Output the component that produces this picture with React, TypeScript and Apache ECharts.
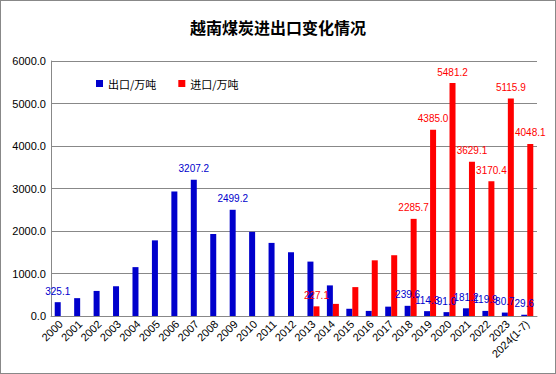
import React, { useEffect, useRef } from "react";
import * as echarts from "echarts";

const years = [
  "2000", "2001", "2002", "2003", "2004", "2005", "2006", "2007", "2008", "2009",
  "2010", "2011", "2012", "2013", "2014", "2015", "2016", "2017", "2018", "2019",
  "2020", "2021", "2022", "2023", "2024(1-7)",
];
const exportVals = [
  325.1, 420, 590, 700, 1150, 1780, 2930, 3207.2, 1930, 2499.2,
  1980, 1720, 1500, 1280, 720, 170, 120, 220, 239.6, 114.3,
  91.0, 181.2, 119.9, 80.7, 29.6,
];
const importVals: (number | null)[] = [
  null, null, null, null, null, null, null, null, null, null,
  null, null, null, 227.1, 285, 680, 1310, 1430, 2285.7, 4385.0,
  5481.2, 3629.1, 3170.4, 5115.9, 4048.1,
];
const exportLabeled = ["2000", "2007", "2009", "2018", "2019", "2020", "2021", "2022", "2023", "2024(1-7)"];
const importLabeled = ["2013", "2018", "2019", "2020", "2021", "2022", "2023", "2024(1-7)"];
const yTicks = { min: 0, max: 6000, interval: 1000 };

export default function App() {
  const ref = useRef<HTMLDivElement>(null);
  useEffect(() => {
    document.body.style.margin = "0";
    const chart = echarts.init(ref.current!, null, { renderer: "svg" });
    const lblFont = "'Liberation Sans', Arial, sans-serif";
    chart.setOption({
      animation: false,
      backgroundColor: "#ffffff",
      title: {
        text: "越南煤炭进出口变化情况",
        left: "center",
        top: 13,
        textStyle: { fontSize: 16, fontWeight: "bold", color: "#000", fontFamily: "'Noto Sans CJK SC', sans-serif" },
      },
      legend: {
        left: 90,
        top: 72,
        itemWidth: 7,
        itemHeight: 7,
        itemGap: 22,
        icon: "rect",
        textStyle: { fontSize: 11, color: "#000", fontFamily: "'Noto Sans CJK SC', sans-serif" },
        data: ["出口/万吨", "进口/万吨"],
      },
      grid: { left: 50, right: 18, top: 60, bottom: 57 },
      xAxis: {
        type: "category",
        data: years,
        axisLine: { lineStyle: { color: "#888" } },
        axisTick: { show: false },
        axisLabel: { rotate: 45, interval: 0, fontSize: 11, color: "#000", fontFamily: lblFont, margin: 6 },
      },
      yAxis: {
        type: "value",
        min: yTicks.min,
        max: yTicks.max,
        interval: yTicks.interval,
        axisLine: { show: true, lineStyle: { color: "#888" } },
        axisTick: { show: false },
        splitLine: { lineStyle: { color: "#888" } },
        axisLabel: { fontSize: 11, color: "#000", fontFamily: lblFont, formatter: (v: number) => v.toFixed(1), margin: 5 },
      },
      series: [
        {
          name: "出口/万吨",
          type: "bar",
          barWidth: 6,
          barGap: "0%",
          itemStyle: { color: "#0000CC" },
          data: exportVals.map((v, i) => ({
            value: v,
            label: { show: exportLabeled.includes(years[i]) },
          })),
          label: {
            position: "top",
            distance: 6,
            fontSize: 10,
            color: "#0000CC",
            fontFamily: lblFont,
            formatter: (p: any) => Number(p.value).toFixed(1),
          },
        },
        {
          name: "进口/万吨",
          type: "bar",
          barWidth: 6,
          barGap: "0%",
          itemStyle: { color: "#FF0000" },
          data: importVals.map((v, i) => ({
            value: v,
            label: { show: importLabeled.includes(years[i]) },
          })),
          label: {
            position: "top",
            distance: 6,
            fontSize: 10,
            color: "#FF0000",
            fontFamily: lblFont,
            formatter: (p: any) => Number(p.value).toFixed(1),
          },
        },
      ],
    });
    return () => chart.dispose();
  }, []);
  return (
    <div style={{ position: "fixed", left: 0, top: 0, width: 556, height: 374, boxSizing: "border-box", border: "1px solid #888", background: "#fff" }}>
      <div ref={ref} style={{ width: 554, height: 372 }} />
    </div>
  );
}
